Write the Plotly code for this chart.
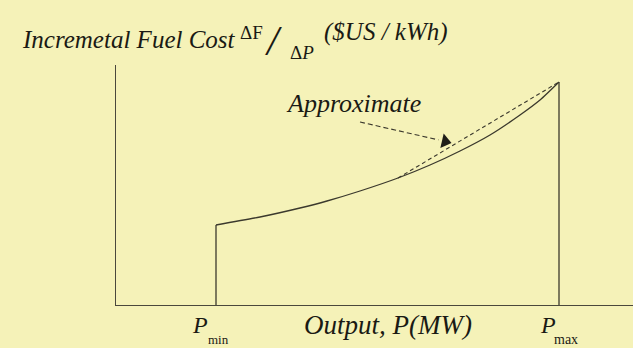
import math
import plotly.graph_objects as go

# ---- data (output in MW-like units, incremental cost in arbitrary units) ----
output_mw = [100, 144, 184, 211, 244, 282, 314, 344, 374, 404, 424, 443]
incr_cost = [80, 88, 97, 104, 114, 127, 140, 154, 170, 190, 205, 223]
approx_mw = [282, 443]
approx_cost = [127, 223]
p_min = 100
p_max = 443
arrow_from = [244, 183]
arrow_tip = [336, 162]

X_RANGE = [0, 517]
Y_RANGE = [0, 240]
W, H = 633, 348
ML, MR, MT, MB = 116, 0, 65, 43

LINE = "#3b392d"
BG = "#f5f2b8"
SERIF = "Liberation Serif"


def px(x):
    return (x - ML) / (W - ML - MR)


def py(y):
    return (H - MB - y) / (H - MT - MB)


fig = go.Figure()

# main incremental cost curve
fig.add_trace(go.Scatter(x=output_mw, y=incr_cost, mode="lines",
                         line=dict(color=LINE, width=1.3, shape="spline", smoothing=0.6),
                         hoverinfo="skip"))
# vertical limits at Pmin and Pmax
fig.add_trace(go.Scatter(x=[p_min, p_min], y=[0, incr_cost[0]], mode="lines",
                         line=dict(color=LINE, width=1.3), hoverinfo="skip"))
fig.add_trace(go.Scatter(x=[p_max, p_max], y=[0, incr_cost[-1]], mode="lines",
                         line=dict(color=LINE, width=1.3), hoverinfo="skip"))
# linear approximation (dashed)
fig.add_trace(go.Scatter(x=approx_mw, y=approx_cost, mode="lines",
                         line=dict(color=LINE, width=1.1, dash="4px,3px"), hoverinfo="skip"))
# pointer arrow (dashed shaft + filled head)
dx = arrow_tip[0] - arrow_from[0]
dy = arrow_tip[1] - arrow_from[1]
L = math.hypot(dx, dy)
ux, uy = dx / L, dy / L
head_len = 14
base = [arrow_tip[0] - ux * head_len, arrow_tip[1] - uy * head_len]
mid = [arrow_tip[0] - ux * head_len / 2, arrow_tip[1] - uy * head_len / 2]
fig.add_trace(go.Scatter(x=[arrow_from[0], base[0]], y=[arrow_from[1], base[1]], mode="lines",
                         line=dict(color=LINE, width=1.1, dash="5px,3px"), hoverinfo="skip"))
ang = math.degrees(math.atan2(-dy, dx))
fig.add_trace(go.Scatter(x=[mid[0]], y=[mid[1]], mode="markers",
                         marker=dict(symbol="triangle-right", size=13, angle=ang,
                                     color="#1f1e18"), hoverinfo="skip"))

ann = []


def text(t, x, y, size, italic=True):
    ann.append(dict(text=t, x=px(x), y=py(y), xref="paper", yref="paper",
                    xanchor="left", yanchor="middle", showarrow=False,
                    font=dict(family=SERIF, size=size, color="#1a1a14",
                              style="italic" if italic else "normal")))


text("Incremetal Fuel Cost", 20, 40, 25)
text("ΔF", 238, 32, 19, italic=False)
text("/", 263, 41, 42)
text("Δ<i>P</i>", 288, 53, 19, italic=False)
text("($US / kWh)", 322, 32, 25)
text("Approximate", 284, 103, 26)
text("P", 190, 325, 24)
text("min", 206, 339, 13, italic=False)
text("Output, P(MW)", 302, 325, 27)
text("P", 538, 325, 24)
text("max", 552, 339, 14, italic=False)

fig.update_layout(
    width=W, height=H,
    margin=dict(l=ML, r=MR, t=MT, b=MB),
    paper_bgcolor=BG, plot_bgcolor=BG,
    showlegend=False,
    annotations=ann,
    xaxis=dict(range=X_RANGE, showgrid=False, zeroline=False, showticklabels=False,
               ticks="", showline=True, linecolor="#4a483c", linewidth=1.4),
    yaxis=dict(range=Y_RANGE, showgrid=False, zeroline=False, showticklabels=False,
               ticks="", showline=True, linecolor="#4a483c", linewidth=1.4),
)

fig.write_html("out.html", config={"displayModeBar": False},
               post_script="document.body.style.margin='0';document.body.style.overflow='hidden';"
                           "document.body.style.background='" + BG + "';")
